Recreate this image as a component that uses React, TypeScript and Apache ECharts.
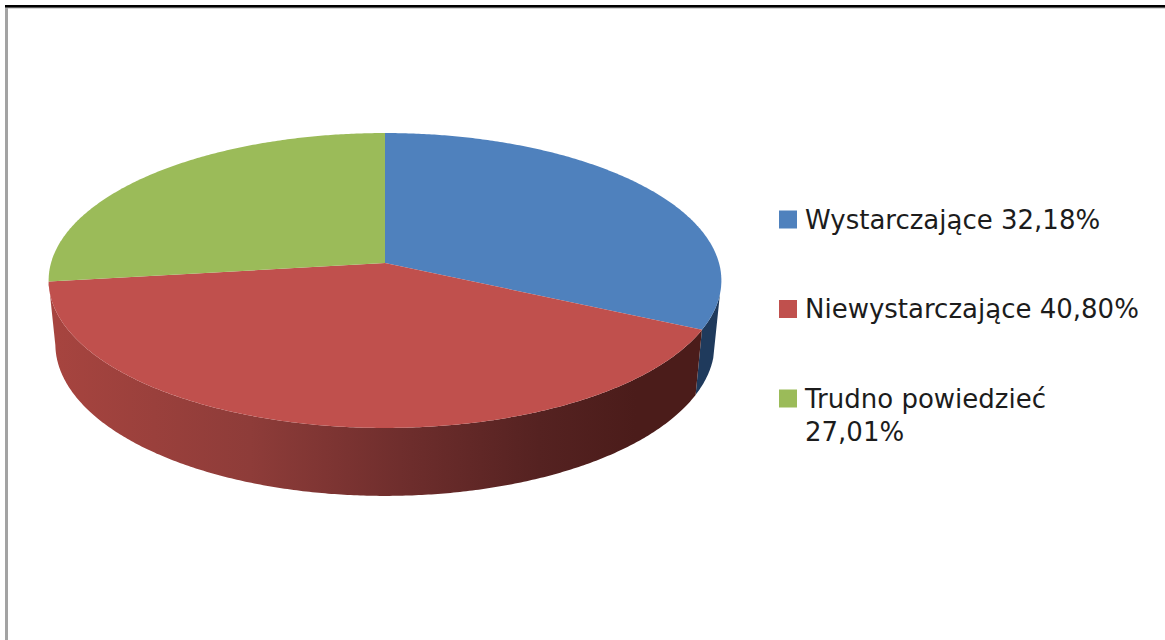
import React, { useEffect, useRef } from "react";
import * as echarts from "echarts";

const categories = ["Wystarczające", "Niewystarczające", "Trudno powiedzieć"];
const values = [32.18, 40.8, 27.01];
const colors = ["#4f81bd", "#c0504d", "#9bbb59"];
const wallStops = [
  [[0, "#1f3a5c"], [1, "#1f3a5c"]],
  [[0, "#a6443f"], [0.3, "#8e3c39"], [0.55, "#6d2d2c"], [0.75, "#552221"], [0.9, "#4b1c1a"], [1, "#4b1c1a"]],
  [[0, "#9bbb59"], [1, "#9bbb59"]],
];

const fmt = (v: number) => v.toFixed(2).replace(".", ",") + "%";
const seriesNames = categories.map((c, i) => `${c} ${fmt(values[i])}`);
const total = values.reduce((a, b) => a + b, 0);

// perspective projection of the pie's unit disc
const CX = 385, CY = 263, R = 334, A = 114.2, C = -0.1186;
function top(t: number): [number, number] {
  const X = Math.sin(t), Y = -Math.cos(t), w = 1 + C * Y;
  return [CX + (R * X) / w, (CY + A * Y) / w];
}
function bottom(t: number): [number, number] {
  const [x, y] = top(t);
  return [CX + (x - CX) * 0.98, CY + 63 + (y - CY) * 1.03];
}
const rad = (d: number) => (d * Math.PI) / 180;
const FRONT_START = rad(102), FRONT_END = rad(262.8);

function sliceRange(i: number): [number, number] {
  const before = values.slice(0, i).reduce((a, b) => a + b, 0);
  return [(before / total) * 2 * Math.PI, ((before + values[i]) / total) * 2 * Math.PI];
}
function samples(a: number, b: number): number[] {
  const n = Math.max(2, Math.ceil((b - a) / rad(0.5)));
  const out: number[] = [];
  for (let k = 0; k <= n; k++) out.push(a + ((b - a) * k) / n);
  return out;
}

function makeRenderItem(i: number) {
  return () => {
    const [a, b] = sliceRange(i);
    const children: any[] = [];
    const wa = Math.max(a, FRONT_START), wb = Math.min(b, FRONT_END);
    if (wb > wa) {
      const ts = samples(wa, wb);
      const pts = [...ts.map(top), ...ts.slice().reverse().map(bottom)];
      children.push({
        type: "polygon",
        z2: 1,
        silent: true,
        shape: { points: pts },
        style: {
          fill: new echarts.graphic.LinearGradient(
            58, 0, 700, 0,
            wallStops[i].map(([offset, color]) => ({ offset: offset as number, color: color as string })),
            true
          ),
        },
      });
    }
    children.push({
      type: "polygon",
      z2: 5,
      silent: true,
      shape: { points: [[CX, CY], ...samples(a, b).map(top)] },
      style: { fill: colors[i] },
    });
    return { type: "group", children };
  };
}

export default function App() {
  const ref = useRef<HTMLDivElement>(null);
  useEffect(() => {
    const chart = echarts.init(ref.current!, undefined, { renderer: "svg" });
    const text = { fontFamily: "DejaVu Sans", fontSize: 26, color: "#1c1c1c", lineHeight: 33 };
    chart.setOption({
      animation: false,
      backgroundColor: "#ffffff",
      legend: {
        orient: "vertical",
        left: 779,
        top: 170,
        padding: 0,
        itemWidth: 18,
        itemHeight: 18,
        itemGap: -9.5,
        icon: "rect",
        selectedMode: false,
        formatter: (name: string) =>
          name.startsWith(categories[2]) ? "\n" + name.replace(categories[2] + " ", categories[2] + "\n") : name,
        textStyle: text,
        data: seriesNames.map((name, i) => ({
          name,
          itemStyle: { color: colors[i] },
          textStyle: { ...text, padding: i === 2 ? [0, 0, 0, 3] : [33, 0, 33, 3] },
        })),
      },
      graphic: [
        { type: "rect", silent: true, shape: { x: 5, y: 5, width: 3, height: 635 }, style: { fill: "#a3a3a3" } },
        { type: "rect", silent: true, shape: { x: 5, y: 7, width: 1160, height: 1.5 }, style: { fill: "#b0b0b0" } },
        { type: "rect", silent: true, shape: { x: 5, y: 5, width: 1160, height: 2.4 }, style: { fill: "#000000" } },
      ],
      series: seriesNames.map((name, i) => ({
        type: "custom",
        name,
        coordinateSystem: "none",
        itemStyle: { color: colors[i] },
        renderItem: makeRenderItem(i),
        data: [values[i]],
      })),
    });
    return () => chart.dispose();
  }, []);
  return <div ref={ref} style={{ position: "fixed", left: 0, top: 0, width: 1165, height: 640 }} />;
}
